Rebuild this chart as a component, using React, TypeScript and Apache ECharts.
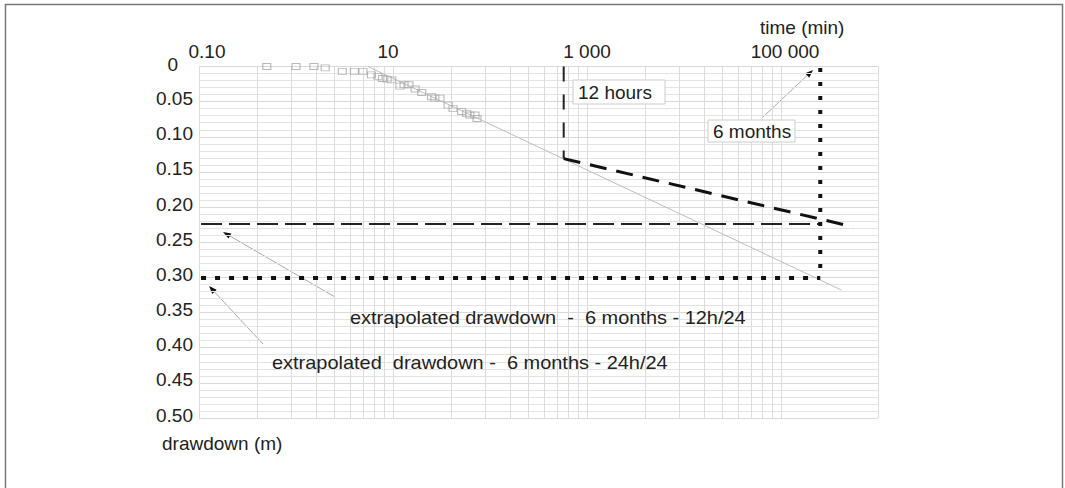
import React, { useEffect, useRef } from "react";
import * as echarts from "echarts";

// measured drawdown (pumping test)
const times = [0.5, 1.0, 1.53, 2.0, 3.0, 4.0, 4.9, 6.0, 7.0, 7.8, 8.7, 9.7, 11.8, 13.0, 14.6, 16.9, 19.8, 25, 27, 30.5, 37, 41.6, 51, 57.5, 62, 70, 73.5];
const drawdowns = [0, 0, 0, 0.002, 0.007, 0.007, 0.007, 0.012, 0.014, 0.017, 0.018, 0.019, 0.028, 0.026, 0.026, 0.032, 0.037, 0.043, 0.045, 0.045, 0.055, 0.06, 0.064, 0.067, 0.069, 0.069, 0.074];

// straight-line fit (24h/24)
const trendTimes = [5.5, 420000];
const trendValues = [0, 0.318];

// 12 hours pumping then 12h/24 extrapolation
const t12h = 575;
const d12h = 0.131;
const extrapTimes = [575, 550000];
const extrapValues = [0.131, 0.228];

// 6 months
const t6m = 254000;
const dExtrap12 = 0.224;
const dExtrap24 = 0.301;
const tLeft = 0.105;

const xTickValues = [0.1, 10, 1000, 100000];
const xTickLabels = ["0.10", "10", "1 000", "100 000"];

const FONT = "Liberation Sans, Arial, Helvetica, sans-serif";

function arrow(x1: number, y1: number, x2: number, y2: number) {
  const dx = x2 - x1, dy = y2 - y1;
  const len = Math.sqrt(dx * dx + dy * dy);
  const ux = dx / len, uy = dy / len;
  const hl = 8, hw = 3;
  const bx = x2 - ux * hl, by = y2 - uy * hl;
  return [
    { type: "line", shape: { x1, y1, x2: bx, y2: by }, style: { stroke: "#aaa", lineWidth: 1 }, silent: true },
    {
      type: "polygon",
      shape: { points: [[x2, y2], [bx - uy * hw, by + ux * hw], [bx + uy * hw, by - ux * hw]] },
      style: { fill: "#111" },
      silent: true,
    },
  ];
}

export default function App() {
  const ref = useRef<HTMLDivElement>(null);
  useEffect(() => {
    if (!ref.current) return;
    const chart = echarts.init(ref.current, undefined, { renderer: "svg" });

    const gridX: number[] = [];
    for (let n = 0; n < 3; n++) {
      for (let k = 1; k <= 9; k++) gridX.push(0.1 * Math.pow(100, n) * k * k);
    }
    gridX.push(100000, 1000000);

    const lineSeries = (name: string, data: number[][], color: string, width: number, dash: number[] | "solid", z = 3) => ({
      name,
      type: "line",
      data,
      symbol: "none",
      silent: true,
      z,
      lineStyle: { color, width, type: dash },
    });

    const labelStyle = { fontSize: 19, fontFamily: FONT, color: "#222" };
    const xRich: any = {
      a: { ...labelStyle, padding: [0, 0, 0, 16] },
      b: { ...labelStyle, padding: [0, 10, 0, 0] },
      c: { ...labelStyle },
      d: { ...labelStyle, padding: [0, 0, 0, 8] },
    };
    const richKeys = ["a", "b", "c", "d"];

    const option: any = {
      animation: false,
      backgroundColor: "#fff",
      grid: { left: 199, top: 66.5, width: 679, height: 351.5, containLabel: false },
      xAxis: {
        type: "log",
        logBase: 10,
        min: 0.1,
        max: 1000000,
        position: "top",
        axisLine: { show: false },
        axisTick: { show: false },
        splitLine: { show: false },
        axisLabel: {
          customValues: xTickValues,
          formatter: (v: number) => {
            const i = xTickValues.findIndex((t) => Math.abs(Math.log10(t) - Math.log10(v)) < 1e-6);
            return i >= 0 ? `{${richKeys[i]}|${xTickLabels[i]}}` : "";
          },
          rich: xRich,
          margin: 6,
          ...labelStyle,
        },
      },
      yAxis: {
        type: "value",
        min: 0,
        max: 0.5,
        interval: 0.05,
        inverse: true,
        axisLine: { show: false },
        axisTick: { show: false },
        minorTick: { show: false, splitNumber: 5 },
        splitLine: { show: true, lineStyle: { color: "#d9d9d9", width: 1 } },
        minorSplitLine: { show: true, lineStyle: { color: "#e3e3e3", width: 1 } },
        axisLabel: {
          formatter: (v: number) => (v === 0 ? "{z|0}" : `{n|${v.toFixed(2)}}`),
          rich: {
            z: { ...labelStyle, padding: [0, 15, 5, 0] },
            n: { ...labelStyle, padding: [0, 0, 6, 0] },
          },
          margin: 6,
          verticalAlign: "middle",
          ...labelStyle,
        },
      },
      series: [
        {
          name: "grid",
          type: "line",
          data: [],
          z: 1,
          silent: true,
          markLine: {
            silent: true,
            z: 1,
            symbol: ["none", "none"],
            label: { show: false },
            lineStyle: { color: "#dcdcdc", width: 1, type: "solid" },
            data: gridX.map((v) => ({ xAxis: v })),
          },
        },
        lineSeries("trend", trendTimes.map((t, i) => [t, trendValues[i]]), "#bdbdbd", 1, "solid", 2),
        {
          name: "measured",
          type: "scatter",
          data: times.map((t, i) => [t, drawdowns[i]]),
          symbol: "rect",
          symbolSize: [8, 6],
          z: 3,
          itemStyle: { color: "rgba(0,0,0,0)", borderColor: "#a8a8a8", borderWidth: 1 },
        },
        lineSeries("12 hours", [[t12h, 0], [t12h, d12h]], "#222", 2, [15, 13]),
        lineSeries("12h/24", extrapTimes.map((t, i) => [t, extrapValues[i]]), "#111", 3, [17, 10]),
        lineSeries("extrap 12h/24", [[tLeft, dExtrap12], [t6m, dExtrap12]], "#222", 2, [21, 7]),
        lineSeries("extrap 24h/24", [[tLeft, dExtrap24], [t6m, dExtrap24]], "#111", 4, [5, 9]),
        lineSeries("6 months", [[t6m, 0.002], [t6m, dExtrap24]], "#111", 4, [4, 10]),
      ],
      graphic: [
        {
          type: "rect",
          shape: { x: 5.5, y: 4.5, width: 1057, height: 520 },
          style: { fill: "none", stroke: "#777", lineWidth: 1.5 },
          silent: true,
          z: 0,
        },
        { type: "text", x: 760, y: 27, style: { text: "time (min)", font: `19px ${FONT}`, fill: "#222", verticalAlign: "middle" } },
        { type: "text", x: 162, y: 443, style: { text: "drawdown (m)", font: `19px ${FONT}`, fill: "#222", verticalAlign: "middle" } },
        { type: "rect", shape: { x: 573, y: 80, width: 92, height: 24 }, style: { fill: "#fff", stroke: "#ccc", lineWidth: 1 }, z: 10 },
        { type: "text", x: 578, y: 92, z: 11, style: { text: "12 hours", font: `19px ${FONT}`, fill: "#222", verticalAlign: "middle" } },
        { type: "rect", shape: { x: 708, y: 120, width: 87, height: 22 }, style: { fill: "#fff", stroke: "#ccc", lineWidth: 1 }, z: 10 },
        { type: "text", x: 713, y: 131, z: 11, style: { text: "6 months", font: `19px ${FONT}`, fill: "#222", verticalAlign: "middle" } },
        { type: "text", x: 350, y: 317, scaleX: 1.05, z: 11, style: { text: "extrapolated drawdown  -  6 months - 12h/24", font: `19px ${FONT}`, fill: "#222", verticalAlign: "middle" } },
        { type: "text", x: 272, y: 362, scaleX: 1.05, z: 11, style: { text: "extrapolated  drawdown -  6 months - 24h/24", font: `19px ${FONT}`, fill: "#222", verticalAlign: "middle" } },
        ...arrow(763, 117, 813, 70),
        ...arrow(335, 297, 223, 232),
        ...arrow(263, 344, 209, 286),
      ],
    };
    chart.setOption(option);
    return () => chart.dispose();
  }, []);
  return <div ref={ref} style={{ position: "fixed", left: 0, top: 0, width: 1065, height: 488 }} />;
}
